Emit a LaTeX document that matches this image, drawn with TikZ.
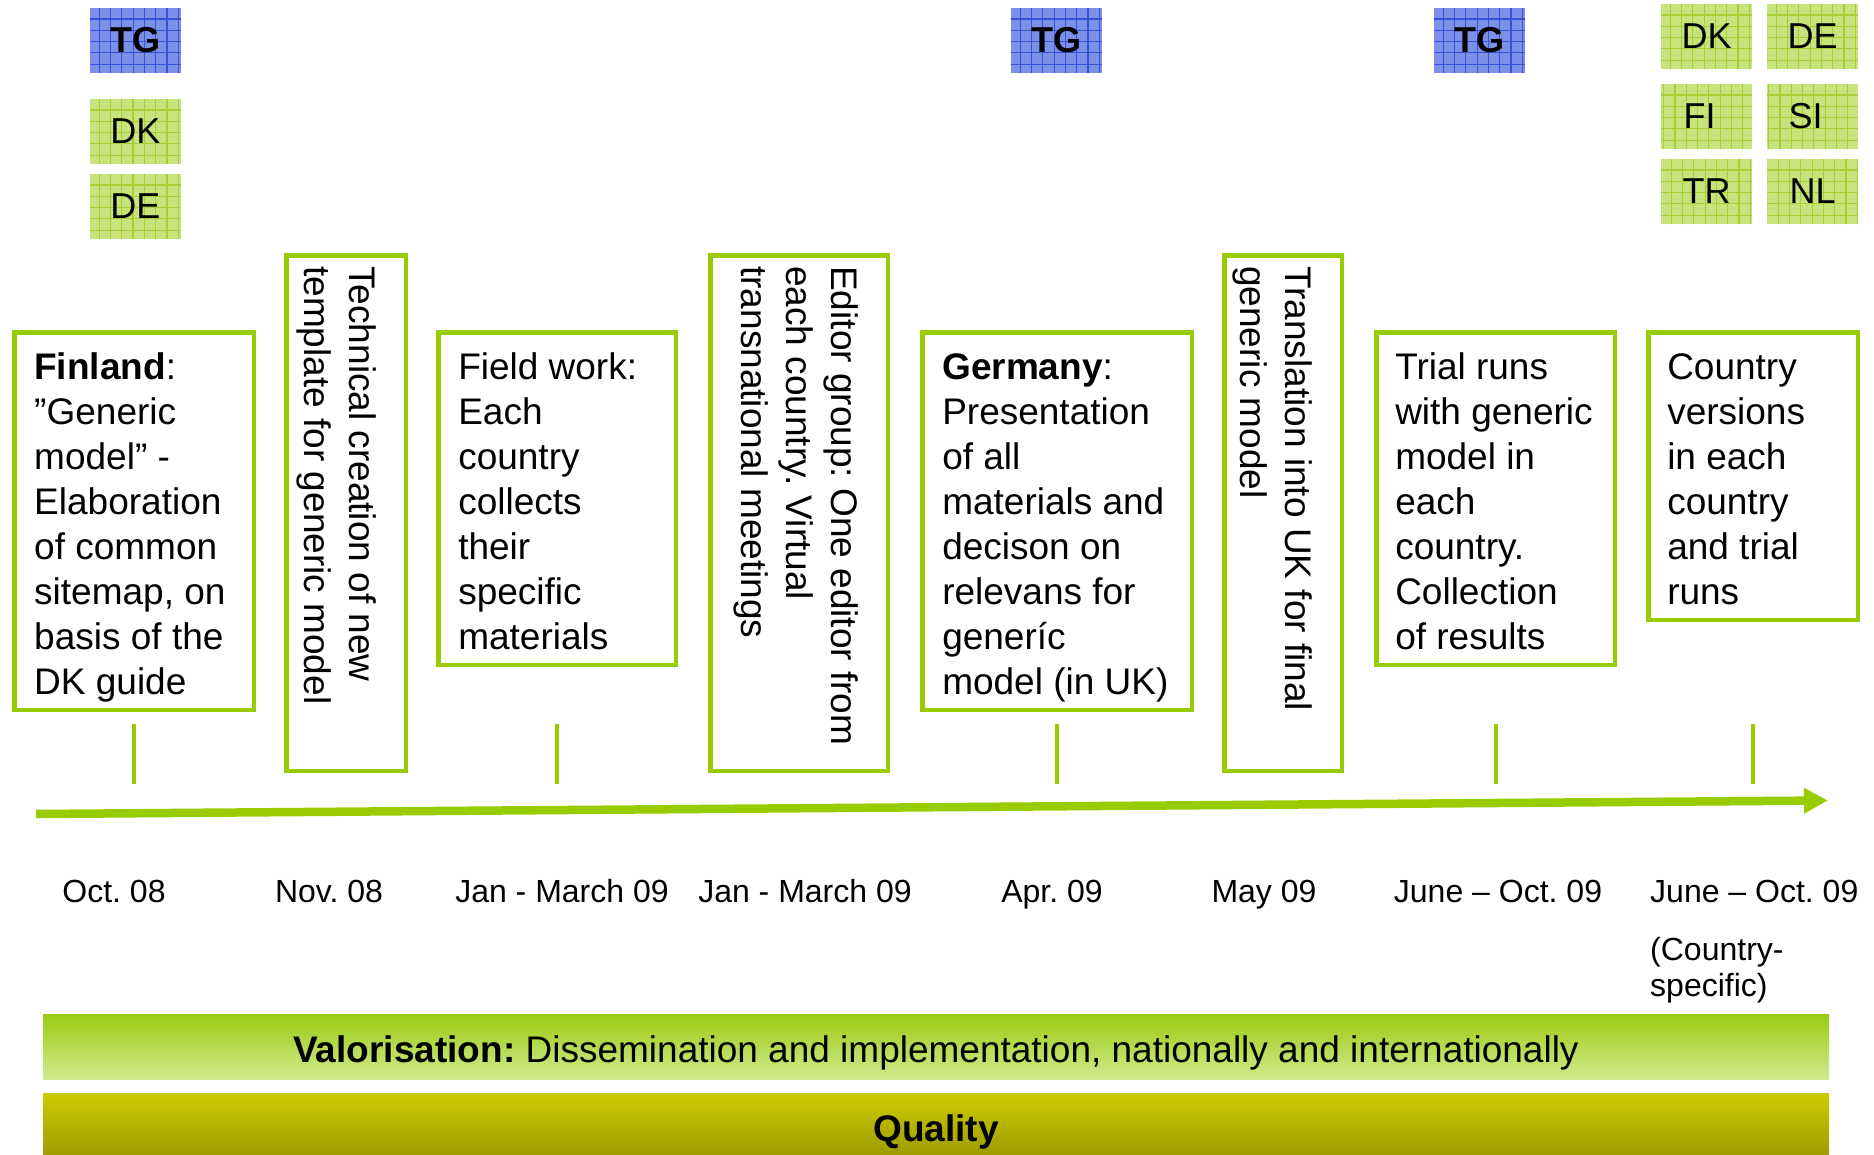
\documentclass[tikz,border=0pt]{standalone}
\usepackage{fontspec}
\setmainfont{Liberation Sans}
\usetikzlibrary{arrows.meta}
\frenchspacing
\definecolor{limegr}{HTML}{99CC00}
\definecolor{tgblue}{HTML}{7B90E6}
\definecolor{tgline}{HTML}{3552D8}
\definecolor{ctgreen}{HTML}{C9E37C}
\definecolor{ctline}{HTML}{A6CF36}
\definecolor{valtop}{HTML}{99CC11}
\definecolor{valbot}{HTML}{D2E98E}
\definecolor{qtop}{HTML}{CCCC00}
\definecolor{qmid}{HTML}{C3C200}
\definecolor{qbot}{HTML}{9C9A00}
\begin{document}
\frenchspacing
\begin{tikzpicture}[x=1pt,y=-1pt,
  phasebox/.style={draw=limegr, line width=4.5pt, inner sep=0pt, outer sep=0pt, anchor=north west},
  btxt/.style={inner sep=0pt, outer sep=0pt, align=left, anchor=north west, font=\fontsize{37pt}{45pt}\selectfont},
  vtxt/.style={btxt, rotate=-90},
  ctag/.style={minimum width=91pt, minimum height=65pt, inner sep=0pt, outer sep=0pt, anchor=north west,
    font=\fontsize{36pt}{43pt}\selectfont},
  tgtag/.style={ctag, fill=tgblue, font=\fontsize{36pt}{43pt}\selectfont\bfseries,
    path picture={\draw[tgline, line width=1.2pt, step=11.3pt] (path picture bounding box.south west) grid (path picture bounding box.north east);}},
  cttag/.style={ctag, fill=ctgreen,
    path picture={\draw[ctline, line width=1.2pt, step=11.3pt] (path picture bounding box.south west) grid (path picture bounding box.north east);}},
  datelbl/.style={anchor=base, inner sep=0pt, font=\fontsize{32pt}{38pt}\selectfont},
  tickline/.style={draw=limegr, line width=4pt},
  timeline/.style={draw=limegr, line width=8.5pt, -{Triangle[length=24pt,width=24pt]}},
  bar/.style={minimum width=1786pt, inner sep=0pt, outer sep=0pt, anchor=north west,
    text height=32pt, text depth=0pt, font=\fontsize{37pt}{45pt}\selectfont}
]
\useasboundingbox (0,0) rectangle (1874,1154);

% tags
\node[tgtag] (tg1) at (90,8) {TG};
\node[cttag] (dk1) at (90,99) {DK};
\node[cttag] (de1) at (90,174) {DE};
\node[tgtag] (tg2) at (1011,8) {TG};
\node[tgtag] (tg3) at (1434,8) {TG};
\node[cttag] (dk2) at (1661,4) {DK};
\node[cttag] (de2) at (1767,4) {DE};
\node[cttag] (fi2) at (1661,84) {\hspace*{-14pt}FI};
\node[cttag] (si2) at (1767,84) {\hspace*{-14pt}SI};
\node[cttag] (tr2) at (1661,159) {TR};
\node[cttag] (nl2) at (1767,159) {NL};

% phase boxes
\node[phasebox, minimum width=239.5pt, minimum height=377.5pt] (fin) at (14.25,332.25) {};
\node[phasebox, minimum width=119.5pt, minimum height=515.5pt] (tech) at (286.25,255.25) {};
\node[phasebox, minimum width=237.5pt, minimum height=332.5pt] (field) at (438.25,332.25) {};
\node[phasebox, minimum width=177.5pt, minimum height=515.5pt] (edit) at (710.25,255.25) {};
\node[phasebox, minimum width=269.5pt, minimum height=377.5pt] (ger) at (922.25,332.25) {};
\node[phasebox, minimum width=117.5pt, minimum height=515.5pt] (trans) at (1224.25,255.25) {};
\node[phasebox, minimum width=238.5pt, minimum height=332.5pt] (trial) at (1376.25,332.25) {};
\node[phasebox, minimum width=209.5pt, minimum height=287.5pt] (ctry) at (1648.25,332.25) {};

% box texts
\node[btxt] (fint) at ([xshift=20pt,yshift=-15.5pt]fin.north west)
  {\strut\textbf{Finland}:\\”Generic\\model” -\\Elaboration\\of common\\sitemap, on\\basis of the\\DK guide};
\node[btxt] (fieldt) at ([xshift=20pt,yshift=-15.5pt]field.north west)
  {\strut Field work:\\Each\\country\\collects\\their\\specific\\materials};
\node[btxt] (gert) at ([xshift=20pt,yshift=-15.5pt]ger.north west)
  {\strut\textbf{Germany}:\\Presentation\\of all\\materials and\\decison on\\relevans for\\generíc\\model (in UK)};
\node[btxt] (trialt) at ([xshift=19pt,yshift=-15.5pt]trial.north west)
  {\strut Trial runs\\with generic\\model in\\each\\country.\\Collection\\of results};
\node[btxt] (ctryt) at ([xshift=19pt,yshift=-15.5pt]ctry.north west)
  {\strut Country\\versions\\in each\\country\\and trial\\runs};
\node[vtxt] (techt) at ([xshift=-24.5pt,yshift=-11pt]tech.north east)
  {\strut Technical creation of new\\template for generic model};
\node[vtxt] (editt) at ([xshift=-24.5pt,yshift=-11pt]edit.north east)
  {\strut Editor group: One editor from\\each country. Virtual\\transnational meetings};
\node[vtxt] (transt) at ([xshift=-24.5pt,yshift=-11pt]trans.north east)
  {\strut Translation into UK for final\\generic model};

% ticks
\coordinate (tkTop) at (0,724);
\coordinate (tkBot) at (0,784);
\foreach \b in {fin,field,ger,trial,ctry}
  \draw[tickline] (\b.south |- tkTop) -- (\b.south |- tkBot);

% timeline
\coordinate (tl0) at (36,814);
\coordinate (tl1) at (1828,800.5);
\draw[timeline] (tl0) -- (tl1);

% dates
\node[datelbl] (d1) at (114,902) {Oct. 08};
\node[datelbl] (d2) at (329,902) {Nov. 08};
\node[datelbl] (d3) at (562,902) {Jan - March 09};
\node[datelbl] (d4) at (805,902) {Jan - March 09};
\node[datelbl] (d5) at (1052,902) {Apr. 09};
\node[datelbl] (d6) at (1264,902) {May 09};
\node[datelbl] (d7) at (1498,902) {June – Oct. 09};
\node[datelbl, anchor=base west] (d8) at (1650,902) {June – Oct. 09};
\node[inner sep=0pt, align=left, anchor=north west, font=\fontsize{32pt}{36pt}\selectfont] (d8b) at (1650,935)
  {\strut(Country-\\specific)};

% bars
\node[bar, minimum height=65pt, top color=valtop, bottom color=valbot] (valbar) at (43,1014)
  {\textbf{Valorisation:} Dissemination and implementation, nationally and internationally};
\node[bar, minimum height=65pt, top color=qtop, middle color=qmid, bottom color=qbot] (qbar) at (43,1093)
  {\textbf{Quality}};
\end{tikzpicture}
\end{document}
